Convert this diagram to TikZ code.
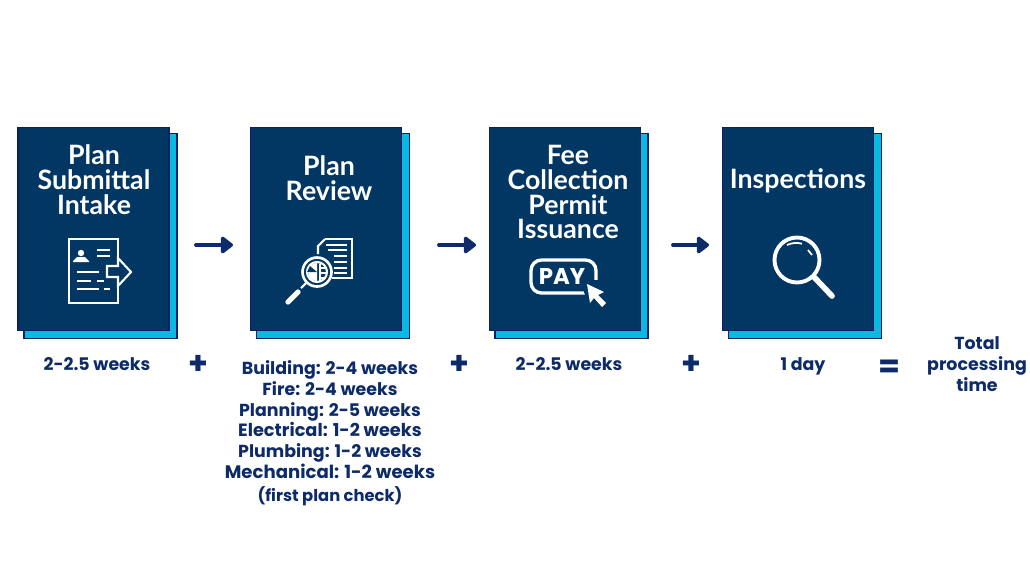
\documentclass[tikz,border=0pt]{standalone}
\usepackage{fontspec}
\setmainfont{Poppins}
\newfontfamily\titlefont{Lato}
\definecolor{boxnavy}{HTML}{023764}
\definecolor{edgenavy}{HTML}{0B1F66}
\definecolor{boxcyan}{HTML}{0AB9E0}
\definecolor{textnavy}{HTML}{0D2B68}
\usetikzlibrary{arrows.meta}
\begin{document}
\begin{tikzpicture}[x=0.02cm,y=0.02cm,
    stepbox/.style={draw=edgenavy,line width=0.8pt,fill=boxnavy,minimum width=3.02cm,minimum height=4.06cm},
    backbox/.style={draw=edgenavy,line width=0.8pt,fill=boxcyan,minimum width=3.06cm,minimum height=4.1cm},
    steptitle/.style={text=white,align=center,font=\titlefont\bfseries\fontsize{15.2}{14.2}\selectfont},
    timetext/.style={text=textnavy,align=center,font=\bfseries\fontsize{9.9}{11.9}\selectfont},
    mathsign/.style={text=textnavy,font=\bfseries\fontsize{18}{18}\selectfont},
    flowarrow/.style={draw=textnavy,line width=2.2pt,line cap=round,-{Triangle[round,length=7.5pt,width=11pt]}},
    iconline/.style={draw=white,line width=1.2pt},
    iconthick/.style={draw=white,line width=2.2pt,line cap=round}]
    \tikzstyle{every node}+=[inner sep=0pt]
    \useasboundingbox (0,0) rectangle (1030,-579);
    \fill [white] (0,0) rectangle (1030,-579);

    \node [backbox] (intakeback) at (100.5,-236) {};
    \node [stepbox] (intake) at (93.5,-229) {};
    \node [backbox] (reviewback) at (333,-236) {};
    \node [stepbox] (review) at (326,-229) {};
    \node [backbox] (feeback) at (571.5,-236) {};
    \node [stepbox] (fee) at (565,-229) {};
    \node [backbox] (inspectback) at (805,-236) {};
    \node [stepbox] (inspect) at (798,-229) {};

    \node [steptitle] (intaketitle) at (94,-180) {Plan\\Submittal\\Intake};
    \node [steptitle] (reviewtitle) at (329,-178) {Plan\\Review};
    \node [steptitle] (feetitle) at (568,-192) {Fee\\Collection\\Permit\\Issuance};
    \node [steptitle] (inspecttitle) at (798,-181) {Inspections};

    \coordinate (arrowa) at (196,-245);
    \coordinate (arrowb) at (233,-245);
    \coordinate (arrowc) at (439,-245);
    \coordinate (arrowd) at (476,-245);
    \coordinate (arrowe) at (673,-245);
    \coordinate (arrowf) at (709,-245);
    \draw [flowarrow] (arrowa) -- (arrowb);
    \draw [flowarrow] (arrowc) -- (arrowd);
    \draw [flowarrow] (arrowe) -- (arrowf);

    \draw [iconline] (69,-239) rectangle (118,-303);
    \fill [boxnavy] (103,-258) rectangle (134,-287);
    \draw [iconline,line join=miter] (107,-266) -- (118,-266) -- (118,-258) -- (131,-272) -- (118,-286) -- (118,-277) -- (107,-277) -- cycle;
    \fill [white] (81,-253) circle (3.2);
    \fill [white] (77,-257) -- (85,-257) -- (89,-261) -- (89,-262) -- (73,-262) -- (73,-261) -- cycle;
    \draw [iconline] (97,-250) -- (110,-250);
    \draw [iconline] (97,-256) -- (110,-256);
    \draw [iconline] (77,-272) -- (99,-272);
    \draw [iconline] (77,-281) -- (91,-281);
    \draw [iconline] (97,-281) -- (104,-281);
    \draw [iconline] (77,-289) -- (99,-289);
    \draw [iconline] (104,-289) -- (110,-289);

    \draw [iconline] (325,-239) -- (352,-239) -- (352,-278) -- (332,-278);
    \draw [iconline] (325,-239) -- (318,-246) -- (318,-254);
    \draw [iconline] (326,-245) -- (347,-245);
    \draw [iconline] (328,-250) -- (347,-250);
    \draw [iconline] (334,-256) -- (347,-256);
    \draw [iconline] (334,-262) -- (347,-262);
    \draw [iconline] (334,-268) -- (347,-268);
    \draw [iconline] (334,-273) -- (347,-273);
    \fill [boxnavy] (317,-272) circle (15);
    \draw [draw=white,line width=1.5pt] (317,-272) circle (14.5);
    \draw [iconline] (317,-272) circle (10);
    \fill [white] (317,-272) -- (317,-263) arc (90:270:9) -- cycle;
    \fill [boxnavy] (317,-272) -- (307,-272) -- (310,-266) -- cycle;
    \draw [iconline] (320,-264) -- (320,-281);
    \draw [iconline] (320,-268) -- (326,-268);
    \draw [iconline] (320,-273) -- (326,-273);
    \draw [iconline] (320,-278) -- (326,-278);
    \draw [iconline] (306,-283) -- (301,-288);
    \draw [draw=white,line width=3pt,line cap=round] (298,-292) -- (288,-302);

    \draw [draw=white,line width=1.9pt,rounded corners=6pt] (531,-260) rectangle (596,-293);
    \node [text=white,font=\bfseries\fontsize{13}{13}\selectfont] (paylabel) at (562,-276) {PAY};
    \fill [boxnavy] (580,-280) -- (600,-280) -- (612,-310) -- (590,-310) -- cycle;
    \fill [white] (587,-284) -- (590,-303) -- (594,-298) -- (602,-307) -- (606,-303) -- (598,-295) -- (604,-292) -- cycle;

    \draw [draw=white,line width=2.2pt] (797,-260) circle (22.5);
    \draw [iconthick,line width=3.2pt] (814,-277) -- (832,-296);
    \draw [draw=white,line width=1pt] (787,-245) arc (115:75:22);
    \draw [draw=white,line width=1pt] (808,-250) -- (812,-255);

    \node [timetext] (intaketime) at (97,-364) {2-2.5 weeks};
    \node [timetext] (feetime) at (569,-364) {2-2.5 weeks};
    \node [timetext] (inspecttime) at (803,-366) {1 day};
    \node [timetext] (reviewtime) at (330,-433) {Building: 2-4 weeks\\Fire: 2-4 weeks\\Planning: 2-5 weeks\\\fontsize{10.1}{11.9}\selectfont Electrical: 1-2 weeks\\Plumbing: 1-2 weeks\\\fontsize{10.3}{11.9}\selectfont Mechanical: 1-2 weeks\\[1pt]\fontsize{9.3}{11.9}\selectfont (first plan check)};
    \node [timetext] (totaltime) at (977,-364) {Total\\processing\\time};

    \node [mathsign] (plusa) at (198,-365) {+};
    \node [mathsign] (plusb) at (459,-365) {+};
    \node [mathsign] (plusc) at (691,-365) {+};
    \node [mathsign] (equals) at (889,-369) {=};
\end{tikzpicture}
\end{document}
